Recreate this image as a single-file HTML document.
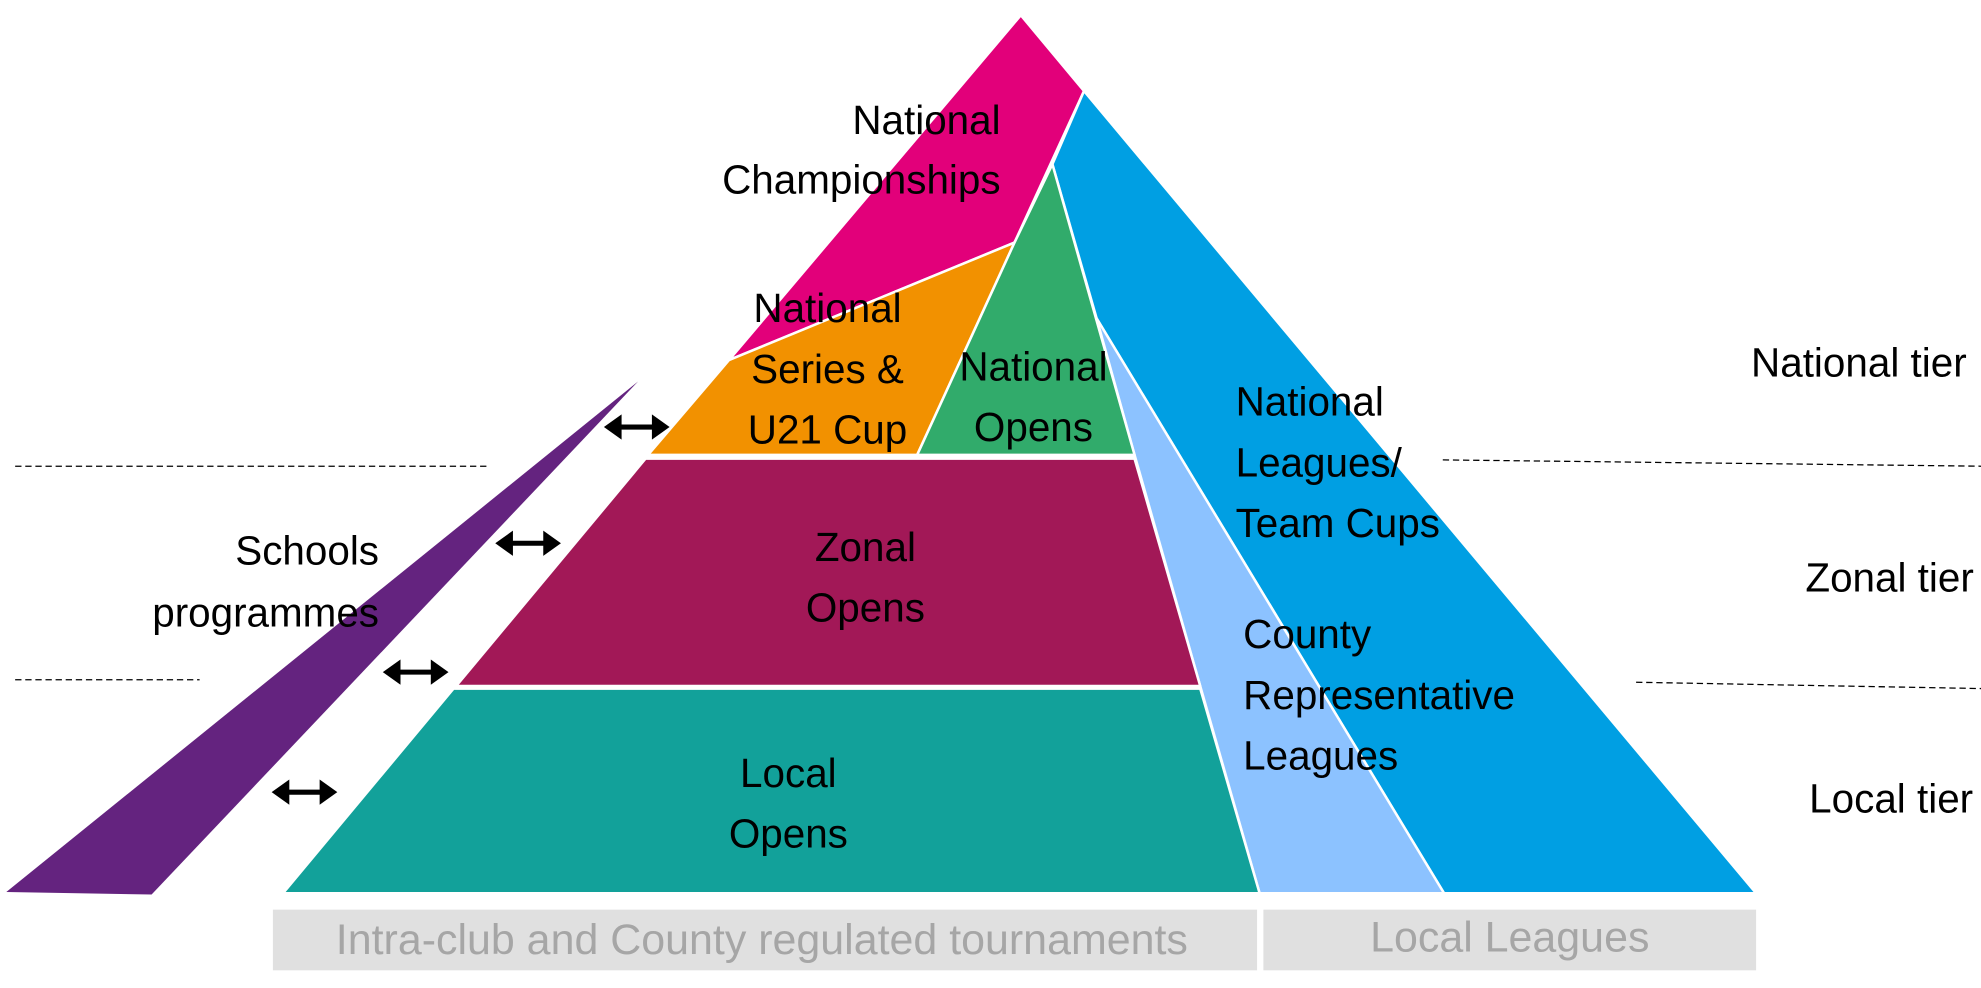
<!DOCTYPE html>
<html><head><meta charset="utf-8"><style>html,body{margin:0;padding:0;background:#fff;}svg{display:block}</style></head>
<body>
<svg width="1981" height="988" viewBox="0 0 1568 782" preserveAspectRatio="none" xmlns="http://www.w3.org/2000/svg" font-family="'Liberation Sans', sans-serif">
<g stroke="#fff" stroke-width="2" stroke-linejoin="round">
<polygon points="808,12 858,72 803,192 577,285" fill="#e2007a"/>
<polygon points="858,72 1390,707 1143,707 868,252 833,130" fill="#009fe3"/>
<polygon points="868,252 1143,707 997,707 950,543 898,360" fill="#8cc2ff"/>
<polygon points="577,285 803,192 726,360 513,360" fill="#f29100"/>
<polygon points="833,130 898,360 726,360 803,192" fill="#31ab6b"/>
<polygon points="511,363 898,363 950,543 361,543" fill="#a21857"/>
<polygon points="359,545 950,545 997,707 224,707" fill="#12a19a"/>
</g>
<polygon points="505,302 120,708 5,706" fill="#64237f"/>
<rect x="216" y="720" width="779" height="48" fill="#e0e0e0"/>
<rect x="1000" y="720" width="390" height="48" fill="#e0e0e0"/>
<g stroke="#000" stroke-width="1" stroke-dasharray="5,3" fill="none">
<line x1="12" y1="369" x2="388" y2="369"/>
<line x1="12" y1="538" x2="158" y2="538"/>
<line x1="1142" y1="364" x2="1568" y2="369"/>
<line x1="1295" y1="540" x2="1568" y2="545"/>
</g>
<g fill="#000">
<g transform="translate(478,338)"><polygon points="0,0 14,-10 14,-2 38,-2 38,-10 52,0 38,10 38,2 14,2 14,10"/></g>
<g transform="translate(392,430)"><polygon points="0,0 14,-10 14,-2 38,-2 38,-10 52,0 38,10 38,2 14,2 14,10"/></g>
<g transform="translate(303,532)"><polygon points="0,0 14,-10 14,-2 38,-2 38,-10 52,0 38,10 38,2 14,2 14,10"/></g>
<g transform="translate(215,627)"><polygon points="0,0 14,-10 14,-2 38,-2 38,-10 52,0 38,10 38,2 14,2 14,10"/></g>
</g>
<g font-size="32" fill="#000">
<text x="792" y="106" text-anchor="end">National</text>
<text x="792" y="153" text-anchor="end">Championships</text>
<text x="655" y="255" text-anchor="middle">National</text>
<text x="655" y="303" text-anchor="middle">Series &amp;</text>
<text x="655" y="351" text-anchor="middle">U21 Cup</text>
<text x="818" y="301" text-anchor="middle">National</text>
<text x="818" y="349" text-anchor="middle">Opens</text>
<text x="685" y="444" text-anchor="middle">Zonal</text>
<text x="685" y="492" text-anchor="middle">Opens</text>
<text x="624" y="623" text-anchor="middle">Local</text>
<text x="624" y="671" text-anchor="middle">Opens</text>
<text x="300" y="447" text-anchor="end">Schools</text>
<text x="300" y="496" text-anchor="end">programmes</text>
<text x="978" y="329">National</text>
<text x="978" y="377">Leagues/</text>
<text x="978" y="425">Team Cups</text>
<text x="984" y="513">County</text>
<text x="984" y="561">Representative</text>
<text x="984" y="609">Leagues</text>
<text x="1386" y="298">National tier</text>
<text x="1429" y="468">Zonal tier</text>
<text x="1432" y="643">Local tier</text>
</g>
<g font-size="34" fill="#a6a6a6" text-anchor="middle">
<text x="603" y="755">Intra-club and County regulated tournaments</text>
<text x="1195" y="753">Local Leagues</text>
</g>
</svg>
</body></html>
